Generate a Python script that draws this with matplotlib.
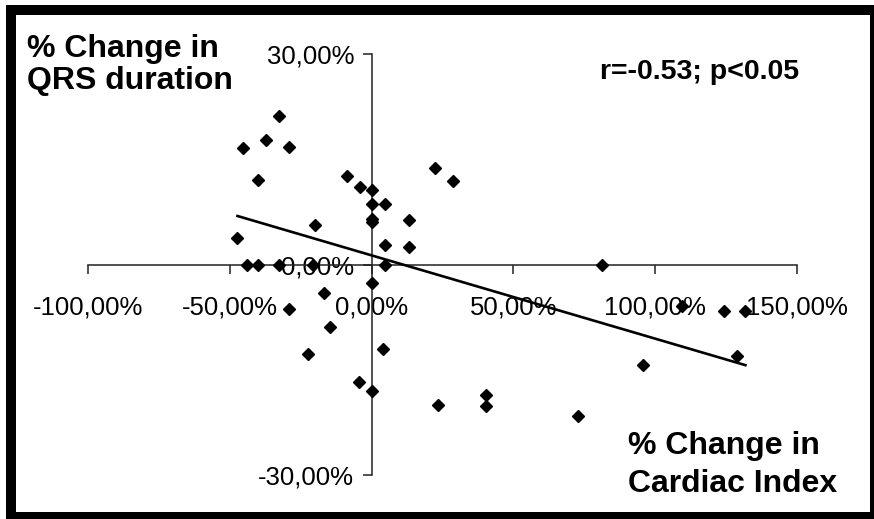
import numpy as np
import matplotlib
matplotlib.use('Agg')
import matplotlib.pyplot as plt
from matplotlib.patches import Rectangle
from matplotlib.ticker import FuncFormatter

# % change in cardiac index (x) vs % change in QRS duration (y)
ci_change = [-32.8, -45.5, -37.2, -29.3, -39.9, -8.5, -4.1, 0.0, 0.0, 4.7,
             22.3, 28.6, 0.0, 0.0, 13.3, -19.9, -47.3, 4.7, 13.3,
             -44.1, -39.9, -32.6, -20.8, 4.7, 81.3,
             0.0, -16.7, -29.3, -14.7, 4.0, -22.4, -4.6, 0.0,
             109.6, 124.1, 131.8, 129.0, 95.6, 40.4, 40.4, 72.7, 23.5]
qrs_change = [21.1, 16.6, 17.7, 16.7, 12.0, 12.6, 11.1, 10.6, 8.6, 8.6,
              13.7, 11.9, 6.5, 6.0, 6.3, 5.6, 3.8, 2.8, 2.5,
              0.0, 0.0, 0.0, 0.0, 0.0, 0.0,
              -2.7, -4.0, -6.4, -8.9, -12.1, -12.7, -16.7, -18.0,
              -5.9, -6.6, -6.6, -13.1, -14.3, -18.6, -20.1, -21.6, -20.0]

# linear trendline (y = slope * x + intercept)
trend_slope = -0.1187
trend_intercept = 1.3

x_ticks = [-100, -50, 0, 50, 100, 150]
y_ticks = [-30, 0, 30]

W, H = 874, 519
fig = plt.figure(figsize=(W / 100, H / 100), dpi=100)
fig.patch.set_facecolor('white')

# axes box in pixels: x -100..150 -> 88..797, y 30..-30 -> 54..475
ax = fig.add_axes([88 / W, 1 - 475 / H, (797 - 88) / W, (475 - 54) / H])
ax.set_xlim(-100, 150)
ax.set_ylim(-30, 30)
ax.patch.set_alpha(0)

for s in ['top', 'right']:
    ax.spines[s].set_visible(False)
ax.spines['left'].set_position(('data', 0))
ax.spines['bottom'].set_position(('data', 0))
for s in ['left', 'bottom']:
    ax.spines[s].set_linewidth(1.1)
    ax.spines[s].set_color('#222222')

fmt = FuncFormatter(lambda v, pos: f"{v:.2f}%".replace('.', ','))
ax.set_xticks(x_ticks)
ax.set_yticks(y_ticks)
ax.xaxis.set_major_formatter(fmt)
ax.yaxis.set_major_formatter(fmt)
ax.tick_params(axis='x', direction='out', length=6.5, width=1.1, color='#222222',
               pad=16, labelsize=18.5)
ax.tick_params(axis='y', direction='out', length=6.5, width=1.1, color='#222222',
               pad=6, labelsize=18.5)
for lab in ax.get_xticklabels() + ax.get_yticklabels():
    lab.set_fontfamily('Liberation Sans')

# points and linear trend over the data range
ax.plot(ci_change, qrs_change, linestyle='none', marker='D', ms=6.6,
        color='black', zorder=4, clip_on=False)
xs = np.array([min(ci_change), max(ci_change)])
ax.plot(xs, trend_slope * xs + trend_intercept, color='black', lw=1.9, zorder=3)

bold = dict(fontfamily='Liberation Sans', fontweight='bold', color='black')
def ptext(x, y, s, size):
    fig.text(x / W, 1 - y / H, s, fontsize=size, va='baseline', ha='left', **bold)

ptext(27, 57, '% Change in', 23)
ptext(27, 89, 'QRS duration', 23)
ptext(628, 454, '% Change in', 23)
ptext(628, 492, 'Cardiac Index', 23)
ptext(600, 79, 'r=-0.53; p<0.05', 20.5)

# heavy black frame
def frame(x0, y0, x1, y1):
    fig.add_artist(Rectangle((x0 / W, 1 - y1 / H), (x1 - x0) / W, (y1 - y0) / H,
                             transform=fig.transFigure, color='black', lw=0))
frame(6, 5, 874, 15)
frame(6, 5, 16, 519)
frame(6, 512, 874, 519)
frame(870, 5, 874, 519)

fig.savefig('out.png', dpi=100)
